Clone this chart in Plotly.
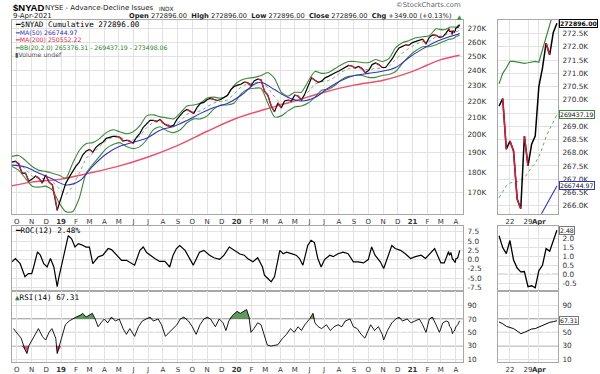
import math
import plotly.graph_objects as go

# ---------------- DATA ----------------
# $NYAD cumulative (thousands) - weekly readings, then daily tail (shown in the right-hand zoom panel)
nyad_dates = [
    '2018-09-21', '2018-09-28', '2018-10-05', '2018-10-12', '2018-10-19', '2018-10-26', '2018-11-02', '2018-11-09',
    '2018-11-16', '2018-11-23', '2018-11-30', '2018-12-07', '2018-12-14', '2018-12-21', '2018-12-24', '2018-12-28',
    '2019-01-04', '2019-01-11', '2019-01-18', '2019-01-25', '2019-02-01', '2019-02-08', '2019-02-15', '2019-02-22',
    '2019-03-01', '2019-03-08', '2019-03-15', '2019-03-22', '2019-03-29', '2019-04-05', '2019-04-12', '2019-04-19',
    '2019-04-26', '2019-05-03', '2019-05-10', '2019-05-17', '2019-05-24', '2019-05-31', '2019-06-07', '2019-06-14',
    '2019-06-21', '2019-06-28', '2019-07-05', '2019-07-12', '2019-07-19', '2019-07-26', '2019-08-02', '2019-08-09',
    '2019-08-16', '2019-08-23', '2019-08-30', '2019-09-06', '2019-09-13', '2019-09-20', '2019-09-27', '2019-10-04',
    '2019-10-11', '2019-10-18', '2019-10-25', '2019-11-01', '2019-11-08', '2019-11-15', '2019-11-22', '2019-11-29',
    '2019-12-06', '2019-12-13', '2019-12-20', '2019-12-27', '2020-01-03', '2020-01-10', '2020-01-17', '2020-01-24',
    '2020-01-31', '2020-02-07', '2020-02-14', '2020-02-21', '2020-02-28', '2020-03-06', '2020-03-13', '2020-03-20',
    '2020-03-27', '2020-04-03', '2020-04-10', '2020-04-17', '2020-04-24', '2020-05-01', '2020-05-08', '2020-05-15',
    '2020-05-22', '2020-05-29', '2020-06-05', '2020-06-12', '2020-06-19', '2020-06-26', '2020-07-03', '2020-07-10',
    '2020-07-17', '2020-07-24', '2020-07-31', '2020-08-07', '2020-08-14', '2020-08-21', '2020-08-28', '2020-09-04',
    '2020-09-11', '2020-09-18', '2020-09-25', '2020-10-02', '2020-10-09', '2020-10-16', '2020-10-23', '2020-10-30',
    '2020-11-06', '2020-11-13', '2020-11-20', '2020-11-27', '2020-12-04', '2020-12-11', '2020-12-18', '2020-12-24',
    '2020-12-31', '2021-01-08', '2021-01-15', '2021-01-22', '2021-01-29', '2021-02-05', '2021-02-12', '2021-02-19',
    '2021-02-26', '2021-03-05', '2021-03-12']
nyad_k = [
    185.1, 185.6, 184.0, 179.4, 179.4, 175.4, 176.4, 177.9,
    176.9, 174.4, 178.4, 174.9, 173.5, 165.8, 161.4, 164.4,
    169.1, 174.4, 177.4, 180.4, 183.0, 185.1, 188.8, 190.9,
    191.9, 190.4, 193.1, 194.7, 195.8, 198.0, 198.6, 199.1,
    199.1, 198.6, 196.4, 196.9, 196.4, 195.3, 198.6, 200.8,
    204.3, 206.6, 208.3, 208.3, 207.7, 208.9, 206.6, 205.4,
    204.8, 205.4, 208.9, 211.3, 213.7, 214.9, 213.7, 212.5,
    216.1, 218.6, 219.2, 221.0, 221.7, 221.0, 220.4, 221.0,
    222.3, 223.5, 227.3, 229.3, 230.2, 230.8, 232.1, 231.8,
    229.8, 233.1, 234.1, 233.7, 226.3, 223.8, 217.0, 213.4,
    218.9, 215.8, 220.1, 220.7, 220.1, 223.8, 223.2, 220.7,
    224.5, 229.5, 235.0, 233.4, 232.1, 232.8, 235.0, 236.0,
    237.4, 238.4, 239.4, 240.7, 241.7, 243.4, 243.0, 241.7,
    242.7, 241.3, 238.4, 240.0, 244.0, 245.1, 244.0, 242.0,
    242.0, 244.7, 248.1, 252.3, 255.8, 256.9, 258.1, 257.6,
    259.5, 260.6, 261.7, 262.2, 258.8, 263.6, 265.5, 265.1,
    263.6, 264.0, 267.0]

tail_dates = ['2021-03-17', '2021-03-18', '2021-03-19', '2021-03-22', '2021-03-23', '2021-03-24', '2021-03-25',
              '2021-03-26', '2021-03-29', '2021-03-30', '2021-03-31', '2021-04-01', '2021-04-05', '2021-04-06',
              '2021-04-07', '2021-04-08', '2021-04-09']
nyad_tail_k = [269.76, 270.05, 268.13, 268.44, 268.07, 266.25, 265.88, 268.63, 267.50, 268.32, 268.63,
               270.50, 271.20, 272.14, 271.70, 272.547, 272.896]

# MA(200), thousands
ma200_dates = ['2018-09-21', '2018-11-01', '2019-01-01', '2019-03-01', '2019-05-01', '2019-07-01', '2019-09-01',
               '2019-11-01', '2020-01-01', '2020-03-01', '2020-05-01', '2020-07-01', '2020-09-01', '2020-11-01',
               '2021-01-01', '2021-02-01', '2021-03-01', '2021-04-09']
ma200_k = [173.1, 174.9, 176.4, 179.4, 183.0, 187.8, 194.1, 202.0, 209.6, 215.0, 220.1, 225.6, 230.2, 233.4,
           239.4, 243.7, 247.4, 250.55222]

# MA(50), thousands
ma50_dates = ['2018-09-21', '2018-10-19', '2018-11-16', '2018-12-14', '2019-01-11', '2019-02-08', '2019-03-08',
              '2019-04-05', '2019-05-03', '2019-05-31', '2019-06-28', '2019-07-26', '2019-08-23', '2019-09-20',
              '2019-10-18', '2019-11-15', '2019-12-13', '2020-01-10', '2020-02-07', '2020-02-21', '2020-03-20',
              '2020-04-17', '2020-05-15', '2020-06-12', '2020-07-10', '2020-08-07', '2020-09-04', '2020-10-02',
              '2020-10-30', '2020-11-27', '2020-12-24', '2021-01-22', '2021-02-19']
ma50_k = [183.5, 182.5, 179.4, 176.4, 173.5, 175.4, 183.0, 189.4, 193.6, 195.8, 198.0, 202.6, 204.8, 208.3,
          212.5, 216.1, 218.6, 223.5, 230.8, 232.1, 227.3, 222.3, 220.1, 222.3, 228.3, 233.4, 236.7, 238.0,
          239.4, 242.0, 248.8, 255.1, 260.3]
ma50_tail_k = [263.8, 264.0, 264.2, 264.35, 264.5, 264.6, 264.75, 264.9, 265.05, 265.2, 265.35, 265.5,
               265.76, 266.0, 266.25, 266.5, 266.74497]

# Bollinger Bands (20, 2.0), thousands
bb_dates = ['2018-09-21', '2018-10-05', '2018-10-19', '2018-11-02', '2018-11-16', '2018-11-30', '2018-12-14',
            '2018-12-28', '2019-01-11', '2019-01-25', '2019-02-08', '2019-02-22', '2019-03-08', '2019-03-22',
            '2019-04-05', '2019-04-19', '2019-05-03', '2019-05-17', '2019-05-31', '2019-06-14', '2019-06-28',
            '2019-07-12', '2019-07-26', '2019-08-09', '2019-08-23', '2019-09-06', '2019-09-20', '2019-10-04',
            '2019-10-18', '2019-11-01', '2019-11-15', '2019-11-29', '2019-12-13', '2019-12-27', '2020-01-10',
            '2020-01-24', '2020-02-07', '2020-02-21', '2020-03-06', '2020-03-20', '2020-04-03', '2020-04-17',
            '2020-05-01', '2020-05-15', '2020-05-29', '2020-06-12', '2020-06-26', '2020-07-10', '2020-07-24',
            '2020-08-07', '2020-08-21', '2020-09-04', '2020-09-18', '2020-10-02', '2020-10-16', '2020-10-30',
            '2020-11-13', '2020-11-27', '2020-12-11', '2020-12-24', '2021-01-08', '2021-01-22', '2021-02-05',
            '2021-02-19', '2021-03-05']
bb_upper_k = [188.1, 188.6, 186.0, 182.8, 180.8, 180.3, 179.3, 178.3, 176.8, 184.4, 191.3, 195.0, 195.6, 197.8,
              201.2, 202.9, 201.7, 200.6, 201.7, 205.2, 211.0, 211.6, 210.4, 209.8, 209.2, 212.8, 217.0, 217.6,
              218.8, 221.9, 222.5, 221.9, 223.8, 230.1, 233.4, 234.7, 235.3, 236.6, 238.6, 234.7, 225.6, 223.1,
              225.6, 225.6, 232.7, 239.3, 238.0, 238.6, 241.3, 244.1, 246.1, 246.1, 245.4, 245.4, 247.5, 246.1,
              248.2, 256.0, 259.6, 261.1, 263.3, 264.0, 264.7, 270.0, 269.2]
bb_mid_k = [185.4, 184.7, 181.4, 177.9, 176.6, 176.6, 175.2, 171.6, 168.8, 172.6, 179.3, 187.2, 189.8, 193.0,
            196.8, 198.7, 198.7, 197.0, 197.0, 199.3, 204.1, 207.3, 207.5, 206.1, 205.2, 207.9, 212.0, 213.4,
            214.0, 216.5, 218.9, 219.8, 220.7, 224.5, 228.9, 231.1, 231.8, 232.4, 228.7, 222.6, 218.3, 218.6,
            221.0, 221.3, 225.8, 230.9, 232.5, 233.1, 235.7, 239.1, 241.1, 241.4, 241.0, 240.4, 241.4, 241.4,
            242.8, 247.7, 252.2, 255.4, 258.6, 260.4, 260.7, 264.1, 264.8]
bb_lower_k = [182.8, 180.8, 176.8, 172.9, 172.4, 172.9, 171.0, 164.9, 160.8, 160.8, 167.2, 179.3, 183.9, 188.1,
              192.3, 194.5, 195.6, 193.4, 192.3, 193.4, 197.2, 202.9, 204.6, 202.3, 201.2, 202.9, 206.9, 209.2,
              209.2, 211.0, 215.2, 217.6, 217.6, 218.8, 224.4, 227.5, 228.2, 228.2, 218.8, 210.4, 211.0, 214.0,
              216.4, 217.0, 218.8, 222.5, 226.9, 227.5, 230.1, 234.0, 236.0, 236.6, 236.6, 235.3, 235.3, 236.6,
              237.3, 239.3, 244.8, 249.6, 253.9, 256.7, 256.7, 258.1, 260.3]
bb_upper_tail_k = [270.6, 271.0, 271.2, 271.45, 271.45, 271.42, 271.4, 271.38, 271.4, 271.43, 271.45, 271.42,
                   271.9, 272.4, 272.8, 273.3, 273.49806]
bb_mid_tail_k = [266.3, 266.55, 266.75, 266.85, 266.9, 266.9, 266.95, 267.05, 267.25, 267.45, 267.6, 267.85,
                 268.2, 268.6, 268.9, 269.2, 269.43719]
bb_lower_tail_k = [262.0, 262.1, 262.3, 262.25, 262.35, 262.38, 262.5, 262.72, 263.1, 263.47, 263.75, 264.28,
                   264.5, 264.8, 265.0, 265.1, 265.37631]

# ROC(12), percent
roc_dates = ['2018-09-21', '2018-09-28', '2018-10-08', '2018-10-18', '2018-10-25', '2018-11-01', '2018-11-05',
             '2018-11-13', '2018-11-19', '2018-11-26', '2018-12-03', '2018-12-10', '2018-12-17', '2018-12-21',
             '2018-12-24', '2018-12-27', '2019-01-09', '2019-01-16', '2019-01-23', '2019-01-30', '2019-02-06',
             '2019-02-13', '2019-02-22', '2019-03-01', '2019-03-08', '2019-03-19', '2019-03-29', '2019-04-09',
             '2019-04-16', '2019-04-26', '2019-05-07', '2019-05-17', '2019-05-28', '2019-06-03', '2019-06-14',
             '2019-06-21', '2019-06-28', '2019-07-05', '2019-07-15', '2019-07-25', '2019-08-05', '2019-08-15',
             '2019-08-22', '2019-08-29', '2019-09-05', '2019-09-16', '2019-09-26', '2019-10-03', '2019-10-16',
             '2019-10-25', '2019-11-06', '2019-11-15', '2019-11-27', '2019-12-06', '2019-12-17', '2019-12-27',
             '2020-01-08', '2020-01-17', '2020-01-24', '2020-02-04', '2020-02-14', '2020-02-24', '2020-02-28',
             '2020-03-06', '2020-03-13', '2020-03-20', '2020-03-24', '2020-03-31', '2020-04-07', '2020-04-14',
             '2020-04-24', '2020-05-04', '2020-05-11', '2020-05-18', '2020-05-28', '2020-06-04', '2020-06-11',
             '2020-06-18', '2020-06-25', '2020-07-02', '2020-07-13', '2020-07-20', '2020-07-30', '2020-08-10',
             '2020-08-20', '2020-08-31', '2020-09-10', '2020-09-21', '2020-10-01', '2020-10-08', '2020-10-15',
             '2020-10-26', '2020-11-02', '2020-11-09', '2020-11-19', '2020-11-26', '2020-12-07', '2020-12-17',
             '2020-12-28', '2021-01-07', '2021-01-19', '2021-01-28', '2021-02-04', '2021-02-16', '2021-02-22',
             '2021-03-01', '2021-03-08', '2021-03-15']
roc_vals = [-0.6, 0.3, -1.1, -4.6, -3.8, -3.8, -2.0, 2.1, 1.2, -1.1, -2.0, 0.3, -2.0, -4.6,
            -7.3, -5.1, 3.0, 6.5, 5.6, 3.4, 4.3, 4.0, 3.4, 3.4, -1.1, 0.7, 1.2, 3.0,
            2.7, 1.2, -0.2, -0.2, -1.1, -1.5, 2.5, 3.4, 1.9, 1.2, 0.3, -0.5, -0.5, -2.0,
            1.2, 3.0, 3.8, 2.5, 0.3, -1.5, 2.0, 2.5, 1.2, 0.5, 0.1, 1.2, 3.4, 2.5,
            1.5, 1.2, 0.3, -0.6, 0.5, -2.0, -4.2, -5.1, -6.0, -4.6, -2.0, 2.5, 1.6, 2.0,
            1.6, 1.2, 0.3, -1.5, 3.8, 5.2, 4.6, 0.3, -2.0, 0.0, 1.2, 0.8, 1.6, 2.0,
            1.6, -0.6, -0.6, -0.9, 0.0, 3.4, 1.2, -0.6, -2.4, 0.3, 3.8, 3.0, 2.5, 1.6,
            0.3, 0.8, 1.2, 0.3, 1.2, 3.0, 1.2, -0.9, -0.9, 2.0]
roc_tail = [2.17, 1.5, 1.16, 1.9, 0.8, 0.35, 0.13, 0.15, -0.7, -0.65, -0.76, 0.2, 0.5, 1.44, 1.3, 1.9, 2.48]

# RSI(14)
rsi_dates = ['2018-09-24', '2018-10-01', '2018-10-10', '2018-10-18', '2018-10-22', '2018-10-26', '2018-11-02',
             '2018-11-09', '2018-11-15', '2018-11-23', '2018-11-30', '2018-12-07', '2018-12-13', '2018-12-21',
             '2018-12-24', '2019-01-02', '2019-01-10', '2019-01-18', '2019-01-25', '2019-02-01', '2019-02-11',
             '2019-02-15', '2019-02-22', '2019-02-28', '2019-03-07', '2019-03-13', '2019-03-19', '2019-03-25',
             '2019-04-01', '2019-04-08', '2019-04-16', '2019-04-24', '2019-05-02', '2019-05-10', '2019-05-17',
             '2019-05-24', '2019-06-03', '2019-06-11', '2019-06-19', '2019-06-27', '2019-07-05', '2019-07-12',
             '2019-07-22', '2019-07-29', '2019-08-06', '2019-08-14', '2019-08-22', '2019-08-30', '2019-09-06',
             '2019-09-13', '2019-09-23', '2019-10-01', '2019-10-09', '2019-10-17', '2019-10-25', '2019-11-01',
             '2019-11-08', '2019-11-18', '2019-11-26', '2019-12-04', '2019-12-10', '2019-12-16', '2019-12-24',
             '2020-01-02', '2020-01-09', '2020-01-17', '2020-01-22', '2020-01-27', '2020-01-31', '2020-02-06',
             '2020-02-14', '2020-02-21', '2020-02-28', '2020-03-05', '2020-03-13', '2020-03-20', '2020-03-27',
             '2020-04-06', '2020-04-14', '2020-04-22', '2020-04-30', '2020-05-08', '2020-05-15', '2020-05-22',
             '2020-06-01', '2020-06-08', '2020-06-12', '2020-06-19', '2020-06-26', '2020-07-06', '2020-07-14',
             '2020-07-22', '2020-07-30', '2020-08-07', '2020-08-14', '2020-08-24', '2020-08-31', '2020-09-08',
             '2020-09-16', '2020-09-24', '2020-10-01', '2020-10-06', '2020-10-14', '2020-10-22', '2020-10-30',
             '2020-11-02', '2020-11-10', '2020-11-19', '2020-11-27', '2020-12-04', '2020-12-11', '2020-12-21',
             '2020-12-29', '2021-01-07', '2021-01-15', '2021-01-22', '2021-01-29', '2021-02-05', '2021-02-11',
             '2021-02-19', '2021-02-26', '2021-03-05', '2021-03-12']
rsi_vals = [55.6, 50, 41.3, 24, 18.3, 29.8, 38.4, 47, 55.6, 44, 38.4, 50, 55.6, 41.3,
            18.3, 41.3, 61.4, 67, 70, 72.8, 75.7, 78.5, 72.8, 75.7, 78.5, 70, 58.4, 64.2,
            70, 64.2, 72.8, 67, 70, 55.6, 47, 55.6, 44, 58.4, 67, 70, 72.8, 67,
            70, 61.4, 44, 50, 55.6, 61.4, 70, 72.8, 67, 58.4, 47, 61.4, 70, 72.8,
            70, 58.4, 70, 64.2, 52.7, 67, 75.7, 81.4, 78.5, 81.4, 84.2, 72.8, 50, 55.6,
            64.2, 61.4, 44, 31, 29.5, 30.5, 31.5, 41.3, 47, 55.6, 50, 58.4, 52.7, 61.4,
            70, 78.5, 64.2, 58.4, 55.6, 61.4, 52.7, 58.4, 61.4, 58.4, 67, 70, 58.4, 55.6,
            47, 41.3, 52.7, 61.4, 52.7, 58.4, 47, 38.4, 52.7, 64.2, 70, 72.8, 67, 70,
            64.2, 67, 70, 61.4, 50, 70, 72.8, 61.4, 50, 64.2, 67]
rsi_tail = [65.4, 63, 59, 57, 55.6, 52, 48, 50, 52, 55, 55.6, 58, 61.4, 63, 65, 66, 67.31]

# Axis ticks / labels
month_ticks = ['2018-10-01', '2018-11-01', '2018-12-01', '2019-01-01', '2019-02-01', '2019-03-01', '2019-04-01',
               '2019-05-01', '2019-06-01', '2019-07-01', '2019-08-01', '2019-09-01', '2019-10-01', '2019-11-01',
               '2019-12-01', '2020-01-01', '2020-02-01', '2020-03-01', '2020-04-01', '2020-05-01', '2020-06-01',
               '2020-07-01', '2020-08-01', '2020-09-01', '2020-10-01', '2020-11-01', '2020-12-01', '2021-01-01',
               '2021-02-01', '2021-03-01', '2021-04-01']
month_labels = ['O', 'N', 'D', '<b>19</b>', 'F', 'M', 'A', 'M', 'J', 'J', 'A', 'S', 'O', 'N', 'D', '<b>20</b>',
                'F', 'M', 'A', 'M', 'J', 'J', 'A', 'S', 'O', 'N', 'D', '<b>21</b>', 'F', 'M', 'A']
main_yticks = [170000, 180000, 190000, 200000, 210000, 220000, 230000, 240000, 250000, 260000, 270000]
main_ylabels = ['170K', '180K', '190K', '200K', '210K', '220K', '230K', '240K', '250K', '260K', '270K']
side_yticks = [266000, 266500, 267000, 267500, 268000, 268500, 269000, 269500, 270000, 270500, 271000,
               271500, 272000, 272500]
# 269.5K sits under the 269437.19 value tag in the reference, so its label is hidden
side_ylabels = ['266.0K', '266.5K', '267.0K', '267.5K', '268.0K', '268.5K', '269.0K', '', '270.0K',
                '270.5K', '271.0K', '271.5K', '272.0K', '272.5K']
side_xticks = ['2021-03-22', '2021-03-29', '2021-04-01']
side_xlabels = ['22', '29', '<b>Apr</b>']
roc_ticks = [-7.5, -5.0, -2.5, 0.0, 2.5, 5.0, 7.5]
roc_side_ticks = [-0.5, 0.0, 0.5, 1.0, 1.5, 2.0]
rsi_ticks = [10, 30, 50, 70, 90]
rsi_side_labels = ['10', '30', '50', '', '90']   # 70 hidden under the 67.31 value tag

# ---------------- DERIVED SERIES ----------------
K = 1000.0
all_dates = nyad_dates + tail_dates
nyad = [v * K for v in nyad_k + nyad_tail_k]
nyad_tail = [v * K for v in nyad_tail_k]
ma200 = [v * K for v in ma200_k]
ma50_all_dates = ma50_dates + tail_dates
ma50 = [v * K for v in ma50_k + ma50_tail_k]
ma50_tail = [v * K for v in ma50_tail_k]
bb_all_dates = bb_dates + tail_dates
bb_up = [v * K for v in bb_upper_k + bb_upper_tail_k]
bb_md = [v * K for v in bb_mid_k + bb_mid_tail_k]
bb_lo = [v * K for v in bb_lower_k + bb_lower_tail_k]
bb_up_t = [v * K for v in bb_upper_tail_k]
bb_md_t = [v * K for v in bb_mid_tail_k]
roc_all_dates = roc_dates + tail_dates
roc_all = roc_vals + roc_tail
rsi_all_dates = rsi_dates + tail_dates
rsi_all = rsi_vals + rsi_tail


def down_segments(xs, ys):
    sx, sy = [], []
    for i in range(1, len(ys)):
        if ys[i] < ys[i - 1]:
            sx += [xs[i - 1], xs[i], None]
            sy += [ys[i - 1], ys[i], None]
    return sx, sy


# ---------------- GEOMETRY ----------------
W, H = 600, 374


def fx(p):
    return p / W


def fy(p):
    return 1 - p / H


MAIN_X = [fx(12), fx(463)]
SIDE_X = [fx(498), fx(558)]
MAIN_Y = [fy(215), fy(20)]
ROC_Y = [fy(293), fy(227)]
RSI_Y = [fy(364), fy(293)]

GRID = '#e2e2e2'
BORDER = '#a8a8a8'
TICKFONT = dict(family='DejaVu Sans', size=7.3, color='#333333')
XTICKFONT = dict(family='DejaVu Sans', size=7, color='#333333')
XRANGE = ['2018-09-21', '2021-04-16']

BLACK = '#000000'
DOWN_RED = '#e3173e'
MA200_C = '#ef4f6c'
MA50_C = '#3232c8'
BB_C = '#3a8a3a'
BB_MID_C = '#5fae5f'

fig = go.Figure()

# ---- main panel ----
fig.add_trace(go.Scatter(x=ma200_dates, y=ma200, mode='lines', line=dict(color=MA200_C, width=1.4, shape='spline'),
                         xaxis='x', yaxis='y'))
fig.add_trace(go.Scatter(x=bb_all_dates, y=bb_md, mode='lines', line=dict(color=BB_MID_C, width=0.9, dash='dot'),
                         xaxis='x', yaxis='y'))
fig.add_trace(go.Scatter(x=bb_all_dates, y=bb_up, mode='lines',
                         line=dict(color=BB_C, width=1.1, shape='spline', smoothing=0.6), xaxis='x', yaxis='y'))
fig.add_trace(go.Scatter(x=bb_all_dates, y=bb_lo, mode='lines',
                         line=dict(color=BB_C, width=1.1, shape='spline', smoothing=0.6), xaxis='x', yaxis='y'))
fig.add_trace(go.Scatter(x=ma50_all_dates, y=ma50, mode='lines', line=dict(color=MA50_C, width=1.1, shape='spline'),
                         xaxis='x', yaxis='y'))
fig.add_trace(go.Scatter(x=all_dates, y=nyad, mode='lines', line=dict(color=BLACK, width=1.2),
                         xaxis='x', yaxis='y'))
sx, sy = down_segments(all_dates, nyad)
fig.add_trace(go.Scatter(x=sx, y=sy, mode='lines', line=dict(color=DOWN_RED, width=1.2), connectgaps=False,
                         xaxis='x', yaxis='y'))

# ---- side (zoom) panel ----
fig.add_trace(go.Scatter(x=tail_dates, y=bb_md_t, mode='lines', line=dict(color=BB_MID_C, width=1, dash='dot'),
                         xaxis='x2', yaxis='y2'))
fig.add_trace(go.Scatter(x=tail_dates, y=bb_up_t, mode='lines', line=dict(color=BB_C, width=1.2),
                         xaxis='x2', yaxis='y2'))
fig.add_trace(go.Scatter(x=tail_dates, y=ma50_tail, mode='lines', line=dict(color=MA50_C, width=1.1),
                         xaxis='x2', yaxis='y2'))
fig.add_trace(go.Scatter(x=tail_dates, y=nyad_tail, mode='lines', line=dict(color=BLACK, width=1.5),
                         xaxis='x2', yaxis='y2'))
sx2, sy2 = down_segments(tail_dates, nyad_tail)
fig.add_trace(go.Scatter(x=sx2, y=sy2, mode='lines', line=dict(color=DOWN_RED, width=1.5),
                         xaxis='x2', yaxis='y2'))

# ---- ROC ----
fig.add_trace(go.Scatter(x=roc_all_dates, y=roc_all, mode='lines', line=dict(color=BLACK, width=1.2),
                         xaxis='x3', yaxis='y3'))
fig.add_trace(go.Scatter(x=tail_dates, y=roc_tail, mode='lines', line=dict(color=BLACK, width=1.3),
                         xaxis='x4', yaxis='y4'))


# ---- RSI ----
def rsi_fills(xs, ys, xa, ya):
    """Shade runs above 70 (green) and below 30 (red) as closed polygons."""
    n = len(ys)
    for level, above, color in ((70, True, 'rgba(70,135,70,0.85)'), (30, False, 'rgba(205,60,80,0.85)')):
        i = 0
        while i < n:
            inside = ys[i] > level if above else ys[i] < level
            if not inside:
                i += 1
                continue
            j = i
            while j + 1 < n and ((ys[j + 1] > level) if above else (ys[j + 1] < level)):
                j += 1
            px, py = [], []
            if i > 0:
                px.append(xs[i - 1]); py.append(level)
            px += xs[i:j + 1]; py += ys[i:j + 1]
            if j + 1 < n:
                px.append(xs[j + 1]); py.append(level)
            fig.add_trace(go.Scatter(x=px + [px[0]], y=py + [py[0]], mode='lines', line=dict(width=0),
                                     fill='toself', fillcolor=color, xaxis=xa, yaxis=ya))
            i = j + 1


rsi_fills(rsi_all_dates, rsi_all, 'x5', 'y5')
fig.add_trace(go.Scatter(x=rsi_all_dates, y=rsi_all, mode='lines', line=dict(color=BLACK, width=0.9),
                         xaxis='x5', yaxis='y5'))
fig.add_trace(go.Scatter(x=tail_dates, y=rsi_tail, mode='lines', line=dict(color=BLACK, width=1.0),
                         xaxis='x6', yaxis='y6'))


# ---------------- AXES ----------------
def box(**kw):
    d = dict(showline=True, mirror=True, linecolor=BORDER, linewidth=1, showgrid=True, gridcolor=GRID,
             gridwidth=1, zeroline=False, ticks='', tickfont=TICKFONT, fixedrange=True, tickangle=0)
    d.update(kw)
    return d


date_x = dict(type='date', range=XRANGE, tickmode='array', tickvals=month_ticks, ticktext=month_labels,
              tickfont=XTICKFONT)
cat_x = dict(type='category', categoryorder='array', categoryarray=tail_dates, range=[-0.3, 16.3],
             tickmode='array', tickvals=side_xticks, ticktext=side_xlabels, tickfont=XTICKFONT)

lg_lo = math.log10(159850)
lg_hi = math.log10(276940)
RSI_RANGE = [5.5, 111.3]

fig.update_layout(
    width=W, height=H, margin=dict(l=0, r=0, t=0, b=0),
    paper_bgcolor='white', plot_bgcolor='white', showlegend=False,
    font=dict(family='DejaVu Sans', size=7, color='#333333'),
    xaxis=box(domain=MAIN_X, anchor='y', showticklabels=True, ticklabelstandoff=1, **date_x),
    yaxis=box(domain=MAIN_Y, anchor='x', side='right', type='log', range=[lg_lo, lg_hi],
              tickmode='array', tickvals=main_yticks, ticktext=main_ylabels, ticklabelstandoff=2),
    xaxis2=box(domain=SIDE_X, anchor='y2', showticklabels=True, ticklabelstandoff=1, **cat_x),
    yaxis2=box(domain=MAIN_Y, anchor='x2', side='right', range=[265690, 273020],
               tickmode='array', tickvals=side_yticks, ticktext=side_ylabels, ticklabelstandoff=2),
    xaxis3=box(domain=MAIN_X, anchor='y3', showticklabels=False, **date_x),
    yaxis3=box(domain=ROC_Y, anchor='x3', side='right', range=[-8.6, 9.14], tickmode='array',
               tickvals=roc_ticks, ticktext=['%.1f' % t for t in roc_ticks], ticklabelstandoff=2),
    xaxis4=box(domain=SIDE_X, anchor='y4', showticklabels=False, **cat_x),
    yaxis4=box(domain=ROC_Y, anchor='x4', side='right', range=[-0.97, 2.73], tickmode='array',
               tickvals=roc_side_ticks, ticktext=['%.1f' % t for t in roc_side_ticks], ticklabelstandoff=2),
    xaxis5=box(domain=MAIN_X, anchor='y5', showticklabels=True, ticklabelstandoff=1, **date_x),
    yaxis5=box(domain=RSI_Y, anchor='x5', side='right', range=RSI_RANGE, tickmode='array',
               tickvals=rsi_ticks, ticktext=[str(t) for t in rsi_ticks], ticklabelstandoff=2),
    xaxis6=box(domain=SIDE_X, anchor='y6', showticklabels=True, ticklabelstandoff=1, **cat_x),
    yaxis6=box(domain=RSI_Y, anchor='x6', side='right', range=RSI_RANGE, tickmode='array',
               tickvals=rsi_ticks, ticktext=rsi_side_labels, ticklabelstandoff=2),
)

# reference lines
shapes = []
for xa, ya in (('x3', 'y3'), ('x4', 'y4')):
    shapes.append(dict(type='line', xref=xa + ' domain', yref=ya, x0=0, x1=1, y0=0, y1=0,
                       line=dict(color='#999999', width=1, dash='dashdot'), layer='below'))
for xa, ya in (('x5', 'y5'), ('x6', 'y6')):
    for lvl in (70, 30):
        shapes.append(dict(type='line', xref=xa + ' domain', yref=ya, x0=0, x1=1, y0=lvl, y1=lvl,
                           line=dict(color='#999999', width=1.5), layer='below'))
    shapes.append(dict(type='line', xref=xa + ' domain', yref=ya, x0=0, x1=1, y0=50, y1=50,
                       line=dict(color='#999999', width=1, dash='dashdot'), layer='below'))
fig.update_layout(shapes=shapes)

# ---------------- TEXT ----------------
ann = []


def text(x, y, s, size=7, color='#222222', family='DejaVu Sans', xanchor='left', **kw):
    ann.append(dict(x=fx(x), y=fy(y), xref='paper', yref='paper', text=s, showarrow=False,
                    xanchor=xanchor, yanchor='middle', font=dict(size=size, color=color, family=family), **kw))


text(11, 8, '<b>$NYAD</b>', size=9.5, color='#000000', family='Liberation Sans')
text(43, 8.5, 'NYSE - Advance-Decline Issues', size=7, color='#222222')
text(157, 9, 'INDX', size=5.8, color='#222222')
text(463, 5.5, '©StockCharts.com', size=6.8, color='#666666', xanchor='right')
text(11, 16.5, '9-Apr-2021', size=7, color='#222222')
last = nyad[-1]
prev = nyad[-2]
chg = last - prev
hdr = ('<b>Open</b> %.2f  <b>High</b> %.2f  <b>Low</b> %.2f  <b>Close</b> %.2f  <b>Chg</b> %+.2f (%+.2f%%)'
       % (last, last, last, last, chg, chg / prev * 100))
text(454, 16.5, hdr, size=6.7, color='#222222', xanchor='right')
text(455, 16.5, '▲', size=6, color='#2a9a2a')

MONO = 'DejaVu Sans Mono'
text(13, 25, '<b>━</b>$NYAD Cumulative %.2f' % last, size=7.6, color='#000000', family=MONO)
text(13, 32.7, '<b>━</b>MA(50) %.2f' % ma50[-1], size=6.2, color=MA50_C)
text(13, 40, '<b>━</b>MA(200) %.2f' % ma200[-1], size=6.2, color='#e0284a')
text(13, 47.3, '<b>━</b>BB(20,2.0) %.2f - %.2f - %.2f' % (bb_lo[-1], bb_md[-1], bb_up[-1]), size=6.2,
     color='#2a822a')
text(13, 55, '▮Volume undef', size=6.2, color='#555555')
text(13, 232, '<b>━</b>ROC(12) %.2f%%' % roc_all[-1], size=7.6, color='#000000', family=MONO)
text(13, 299, '<span style="color:#3a7a3a">▲</span>RSI(14) %.2f' % rsi_all[-1], size=7.6, color='#000000',
     family=MONO)


# value tags on the right of the zoom panels
def tag(yref, yval, s, border, bold=False):
    ann.append(dict(x=fx(558.5), y=yval, xref='paper', yref=yref, text=('<b>%s</b>' % s) if bold else s,
                    showarrow=False, xanchor='left', yanchor='middle', bgcolor='white', bordercolor=border,
                    borderwidth=1, borderpad=0, font=dict(size=6.2, color='#111111', family='DejaVu Sans')))


tag('y2', nyad_tail[-1], '%.2f' % nyad_tail[-1], '#000000', bold=True)
tag('y2', bb_md_t[-1], '%.2f' % bb_md_t[-1], BB_C)
tag('y2', ma50_tail[-1], '%.2f' % ma50_tail[-1], MA50_C)
tag('y4', roc_tail[-1], '%.2f' % roc_tail[-1], '#777777')
tag('y6', rsi_tail[-1], '%.2f' % rsi_tail[-1], '#777777')

fig.update_layout(annotations=ann)
# remove the browser's default 8px body margin so the 600x374 figure fills the window exactly
fig.write_html('out.html', config={'displayModeBar': False, 'staticPlot': True},
               post_script="document.body.style.margin='0';document.body.style.overflow='hidden';")
